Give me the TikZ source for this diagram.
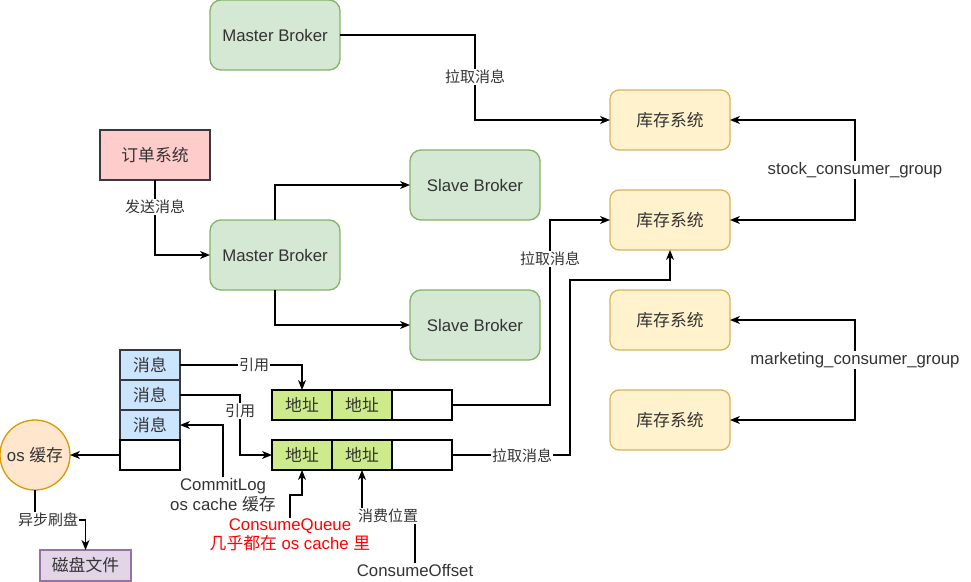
\documentclass[tikz,border=0pt]{standalone}
\usepackage{fontspec}
\setmainfont{Liberation Sans}
\newfontfamily\cjk{Noto Sans CJK SC}
\usetikzlibrary{arrows.meta}
\definecolor{gfill}{HTML}{D5E8D4}\definecolor{gline}{HTML}{82B366}
\definecolor{yfill}{HTML}{FFF2CC}\definecolor{yline}{HTML}{D6B656}
\definecolor{rfill}{HTML}{FFCCCC}\definecolor{dline}{HTML}{36393D}
\definecolor{bfill}{HTML}{CCE5FF}\definecolor{afill}{HTML}{CDEB8B}
\definecolor{ofill}{HTML}{FFE6CC}\definecolor{oline}{HTML}{D79B00}
\definecolor{pfill}{HTML}{E1D5E7}\definecolor{pline}{HTML}{9673A6}
\definecolor{txt}{HTML}{333333}
\begin{document}
\begin{tikzpicture}[x=1pt,y=-1pt,
  every node/.style={outer sep=0pt,text=txt},
  bx/.style={draw,line width=1.3pt,inner sep=0pt,anchor=center,font=\fontsize{16.8}{20}\selectfont},
  bxc/.style={bx,font=\fontsize{16.8}{20}\selectfont\cjk},
  green/.style={bx,fill=gfill,draw=gline,rounded corners=11pt,minimum width=130pt,minimum height=70pt},
  yel/.style={bxc,fill=yfill,draw=yline,rounded corners=9pt,minimum width=120pt,minimum height=60pt},
  msg/.style={bxc,fill=bfill,draw=dline,minimum width=60pt,minimum height=30pt},
  cell/.style={bxc,fill=afill,draw=black,minimum width=60pt,minimum height=30pt},
  ecell/.style={bx,fill=white,draw=black,minimum width=60pt,minimum height=30pt},
  lbl/.style={fill=white,inner sep=1pt,font=\fontsize{15}{18}\selectfont\cjk},
  txtl/.style={inner sep=1pt,align=center,font=\fontsize{16.8}{19.5}\selectfont},
  ln/.style={line width=1.3pt,draw=black},
  arr/.style={ln,-{Stealth[length=10pt,width=8pt,inset=3pt]}}
]
\useasboundingbox (0,0) rectangle (971,581);

% brokers
\node[green] (mb1) at (275,35) {Master Broker};
\node[green] (mb2) at (275,255) {Master Broker};
\node[green] (sl1) at (475,185) {Slave Broker};
\node[green] (sl2) at (475,325) {Slave Broker};
\node[bxc,fill=rfill,draw=dline,minimum width=110pt,minimum height=50pt] (ord) at (155,155) {订单系统};

% inventory
\node[yel] (inv1) at (670,120) {库存系统};
\node[yel] (inv2) at (670,220) {库存系统};
\node[yel] (inv3) at (670,320) {库存系统};
\node[yel] (inv4) at (670,420) {库存系统};

% commit log
\node[msg] (m1) at (150,365) {消息};
\node[msg] (m2) at (150,395) {消息};
\node[msg] (m3) at (150,425) {消息};
\node[ecell] (m4) at (150,455) {};

% consume queues
\node[cell] (r1a) at (302,405) {地址};
\node[cell] (r1b) at (362,405) {地址};
\node[ecell] (r1c) at (422,405) {};
\node[cell] (r2a) at (302,455) {地址};
\node[cell] (r2b) at (362,455) {地址};
\node[ecell] (r2c) at (422,455) {};

% os cache & disk
\node[bx,circle,fill=ofill,draw=oline,minimum size=70pt] (os) at (35,455) {os {\cjk 缓存}};
\node[bxc,fill=pfill,draw=pline,minimum width=91pt,minimum height=31pt] (disk) at (85.5,565.5) {磁盘文件};

% free text labels
\node[txtl] (stock) at (855,170) {stock\_consumer\_group};
\node[txtl] (mkt) at (855,360) {marketing\_consumer\_group};
\node[txtl] (cl) at (223,495) {CommitLog\\os cache {\cjk 缓存}};
\node[txtl,text=red] (cq) at (290,535) {ConsumeQueue\\{\cjk 几乎都在} os cache {\cjk 里}};
\node[txtl] (co) at (415,570) {ConsumeOffset};

% connectors
\draw[arr] (mb1.east) -- (475,35) |- (inv1.west);
\draw[arr] (ord.south) |- (mb2.west);
\draw[arr] (mb2.north) |- (sl1.west);
\draw[arr] (mb2.south) |- (sl2.west);
\draw[arr] (r1c.east) -- (550,405) |- (inv2.west);
\draw[arr] (r2c.east) -- (570,455) |- (670,280) -- (inv2.south);
\draw[arr] (stock.north) |- (inv1.east);
\draw[arr] (stock.south) |- (inv2.east);
\draw[arr] (mkt.north) |- (inv3.east);
\draw[arr] (mkt.south) |- (inv4.east);
\draw[arr] (m1.east) -| (r1a.north);
\draw[arr] (m2.east) -- (240,395) |- (r2a.west);
\draw[arr] (cl.north) |- (m3.east);
\draw[arr] (m4.west) -- (os.east);
\draw[arr] (os.south) -- (35,520) -| (disk.north);
\draw[arr] (cq.north) -- (290,495) -| (r2a.south);
\draw[arr] (co.north) -- (415,516) -| (r2b.south);

% edge labels
\node[lbl] (l1) at (475,77) {拉取消息};
\node[lbl] (l2) at (155,207) {发送消息};
\node[lbl] (l3) at (550,259) {拉取消息};
\node[lbl] (l4) at (522,456) {拉取消息};
\node[lbl] (l5) at (254,365) {引用};
\node[lbl] (l6) at (240,411) {引用};
\node[lbl] (l7) at (48,520) {异步刷盘};
\node[lbl] (l8) at (388,516) {消费位置};
\end{tikzpicture}
\end{document}
